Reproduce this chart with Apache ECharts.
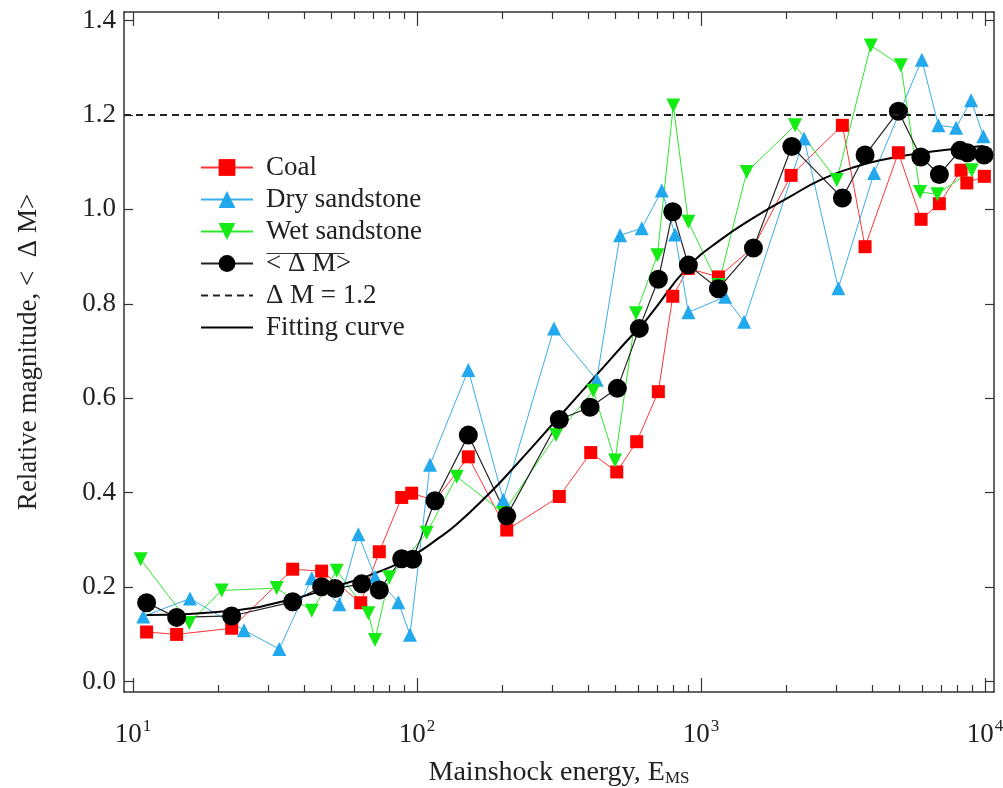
<!DOCTYPE html>
<html><head><meta charset="utf-8">
<script src="https://cdn.jsdelivr.net/npm/echarts@6/dist/echarts.min.js"></script>
<style>html,body{margin:0;padding:0;background:#fff}#c{width:1003px;height:788px}</style>
</head><body><div id="c"></div>
<script>
// ---------- data ----------
const coalEnergy = [11.17,14.25,22.26,36.5,46.17,63.37,73.68,88.35,95.79,115.7,151.6,207,317,408.9,505,593.7,707.5,795,902.3,1151,1529,2075,3145,3780,4952,5952,6904,8232,8623,9943];
const coalDM     = [0.105,0.100,0.113,0.238,0.234,0.167,0.275,0.390,0.399,0.383,0.476,0.321,0.392,0.485,0.444,0.508,0.614,0.816,0.875,0.857,0.920,1.072,1.178,0.921,1.120,0.979,1.012,1.083,1.056,1.070];

const dryEnergy = [10.87,15.88,24.6,32.74,42.6,53.27,62.14,71.14,85.96,94.49,111.1,151.6,201.3,303.7,429.2,518.6,618.3,727.3,809.9,902.3,1215,1417,2305,3044,4066,5987,6848,7907,8929,9863];
const dryDM     = [0.138,0.176,0.109,0.069,0.219,0.164,0.312,0.222,0.168,0.099,0.459,0.660,0.385,0.748,0.639,0.945,0.960,1.040,0.947,0.782,0.815,0.762,1.150,0.833,1.077,1.317,1.178,1.173,1.231,1.155];

const wetEnergy = [10.64,15.79,20.53,32.06,42.6,52.17,67.38,71.14,79.88,108.2,138,201.3,308.7,417.6,498,590.3,701.8,798.8,902.3,1151,1448,2143,3005,3958,5050,5904,6792,8980];
const wetDM     = [0.259,0.124,0.193,0.198,0.150,0.235,0.145,0.088,0.221,0.315,0.434,0.357,0.522,0.616,0.468,0.780,0.903,1.220,0.974,0.840,1.079,1.178,1.062,1.347,1.305,1.037,1.032,1.083];

const meanEnergy = [11.17,14.25,22.26,36.5,46.17,51.44,63.88,73.68,88.35,96.58,115.7,151.6,207,317,406.6,507.4,606.3,707.5,795,902.3,1151,1529,2087,3145,3780,4952,5938,6904,8166,8665,9920];
const meanDM     = [0.167,0.136,0.139,0.169,0.201,0.197,0.207,0.194,0.260,0.259,0.383,0.522,0.351,0.555,0.581,0.621,0.748,0.852,0.995,0.882,0.832,0.918,1.133,1.024,1.115,1.208,1.111,1.074,1.125,1.120,1.115];

const fitEnergy = [11.17,22.26,36.5,50.6,70.2,97.1,120.5,138,180.7,207,310.5,429.2,575,606.3,679.2,890.5,1167,1529,2058,2646,3400,4269,6403,9863];
const fitDM     = [0.141,0.150,0.175,0.200,0.228,0.268,0.306,0.333,0.400,0.437,0.555,0.650,0.735,0.748,0.785,0.875,0.935,0.982,1.027,1.063,1.088,1.104,1.122,1.134];

const dmLevel = 1.2;

const seriesNames = ['Coal', 'Dry sandstone', 'Wet sandstone', '< Δ M>', 'Δ M = 1.2', 'Fitting curve'];

const xMajorTicks = [10, 100, 1000, 10000];
const xTickExponents = ['1', '2', '3', '4'];
const xMinorTicks = [20,30,40,50,60,70,80,90,200,300,400,500,600,700,800,900,2000,3000,4000,5000,6000,7000,8000,9000];
const yTicks = [0, 0.2, 0.4, 0.6, 0.8, 1.0, 1.2, 1.4];
const yTickLabels = ['0.0', '0.2', '0.4', '0.6', '0.8', '1.0', '1.2', '1.4'];

// ---------- chart ----------
const FONT = 'Liberation Serif';
const AX = '#333';
const xMin = 9.3, xMax = 10750, yMin = -0.022, yMax = 1.418;
const zip = (a, b) => a.map((v, i) => [v, b[i]]);

function xAxisDef(position, ticks, len, main, line) {
  return {
    type: 'log', logBase: 10, min: xMin, max: xMax, position: position, gridIndex: 0,
    axisLine: { show: line, onZero: false, lineStyle: { color: AX, width: 1.5 } },
    axisTick: { show: true, inside: true, length: len, customValues: ticks, lineStyle: { color: AX, width: 1.2 } },
    axisLabel: main ? {
      show: true, customValues: xMajorTicks, margin: 26,
      formatter: v => '{b|10}{s|' + xTickExponents[xMajorTicks.findIndex(t => Math.abs(t - v) / t < 1e-6)] + '}',
      rich: {
        b: { fontFamily: FONT, fontSize: 27, color: '#222' },
        s: { fontFamily: FONT, fontSize: 17, color: '#222', padding: [0, 0, 16, 1] }
      }
    } : { show: false },
    splitLine: { show: false },
    name: main ? 'Mainshock energy, E{sub|MS}' : '',
    nameLocation: 'middle', nameGap: 66,
    nameTextStyle: {
      fontFamily: FONT, fontSize: 28, color: '#222',
      rich: { sub: { fontFamily: FONT, fontSize: 17, color: '#222', padding: [12, 0, 0, 0] } }
    }
  };
}
function yAxisDef(position, main) {
  return {
    type: 'value', min: yMin, max: yMax, position: position, gridIndex: 0,
    axisLine: { show: true, onZero: false, lineStyle: { color: AX, width: 1.5 } },
    axisTick: { show: true, inside: true, length: 9, customValues: yTicks, lineStyle: { color: AX, width: 1.2 } },
    axisLabel: main ? {
      show: true, customValues: yTicks, margin: 8,
      formatter: v => yTickLabels[yTicks.findIndex(t => Math.abs(t - v) < 1e-6)],
      fontFamily: FONT, fontSize: 27, color: '#222'
    } : { show: false },
    splitLine: { show: false },
    name: main ? 'Relative magnitude, <  Δ M>' : '',
    nameLocation: 'middle', nameGap: 82, nameRotate: 90,
    nameTextStyle: { fontFamily: FONT, fontSize: 27, color: '#222' }
  };
}

const chart = echarts.init(document.getElementById('c'), null, { renderer: 'canvas' });
chart.setOption({
  animation: false,
  backgroundColor: '#fff',
  grid: { left: 124, right: 9, top: 12, bottom: 96, containLabel: false, outerBoundsMode: 'none' },
  xAxis: [
    xAxisDef('bottom', xMajorTicks, 14, true, true),
    xAxisDef('bottom', xMinorTicks, 7, false, false),
    xAxisDef('top', xMajorTicks, 14, false, true),
    xAxisDef('top', xMinorTicks, 7, false, false)
  ],
  yAxis: [yAxisDef('left', true), yAxisDef('right', false)],
  legend: {
    orient: 'vertical', left: 195, top: 149,
    itemWidth: 52, itemHeight: 21, itemGap: 5,
    textStyle: { fontFamily: FONT, fontSize: 27, color: '#222', lineHeight: 27, padding: [0, 0, 0, 8] },
    data: [
      { name: seriesNames[0] }, { name: seriesNames[1] }, { name: seriesNames[2] }, { name: seriesNames[3] },
      { name: seriesNames[4], itemStyle: { opacity: 0 } },
      { name: seriesNames[5], itemStyle: { opacity: 0 } }
    ]
  },
  graphic: [{
    type: 'line', left: 264, top: 251, silent: true,
    shape: { x1: 0, y1: 0, x2: 78, y2: 0 }, style: { stroke: '#333', lineWidth: 1.2 }
  }],
  series: [
    { name: seriesNames[0], type: 'line', data: zip(coalEnergy, coalDM), symbol: 'rect', symbolSize: 13,
      itemStyle: { color: '#ff0000' }, lineStyle: { color: '#ff3535', width: 1 } },
    { name: seriesNames[1], type: 'line', data: zip(dryEnergy, dryDM), symbol: 'triangle', symbolSize: 14,
      itemStyle: { color: '#22a8ec' }, lineStyle: { color: '#3aaee8', width: 1 } },
    { name: seriesNames[2], type: 'line', data: zip(wetEnergy, wetDM), symbol: 'triangle', symbolRotate: 180, symbolSize: 14,
      itemStyle: { color: '#14ea14' }, lineStyle: { color: '#2ee82e', width: 1 } },
    { name: seriesNames[3], type: 'line', data: zip(meanEnergy, meanDM), symbol: 'circle', symbolSize: 19,
      itemStyle: { color: '#000' }, lineStyle: { color: '#222', width: 1.2 } },
    { name: seriesNames[4], type: 'line', data: [], symbol: 'none',
      itemStyle: { color: '#222' }, lineStyle: { color: '#222', width: 1.8, type: [7, 5] },
      markLine: { silent: true, symbol: 'none', label: { show: false },
        lineStyle: { color: '#222', width: 1.8, type: [7, 5] }, data: [{ yAxis: dmLevel }] } },
    { name: seriesNames[5], type: 'line', data: zip(fitEnergy, fitDM), symbol: 'none', smooth: 0.5,
      itemStyle: { color: '#000' }, lineStyle: { color: '#000', width: 2 } }
  ]
});
</script>
</body></html>
